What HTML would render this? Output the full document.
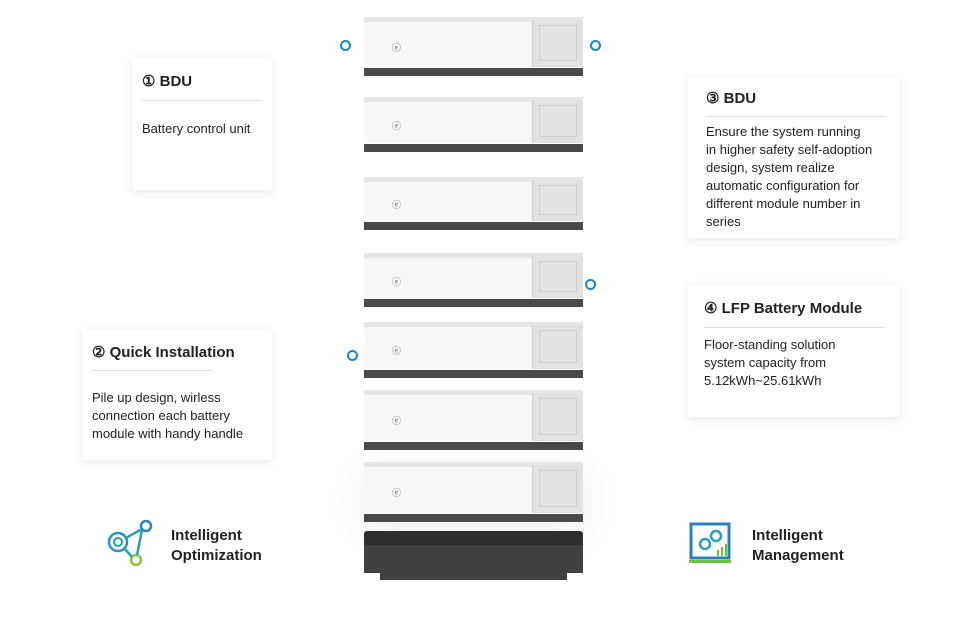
<!DOCTYPE html>
<html><head><meta charset="utf-8"><style>
body{margin:0;width:968px;height:631px;background:#fff;position:relative;overflow:hidden;font-family:"Liberation Sans",sans-serif;color:#222}
.card{position:absolute;background:#fff;box-shadow:0 2px 10px rgba(0,0,0,.10);border-radius:3px}
.card h3{margin:0;font-size:15px;font-weight:bold;color:#222;position:absolute}
.card .ln{position:absolute;height:1px;background:#ddd}
.card p{position:absolute;margin:0;font-size:13px;line-height:18px;color:#222;white-space:nowrap}
.mod{position:absolute;left:364px;width:219px}
.mod .top{position:absolute;left:0;right:0;top:0;height:5px;background:#e6e6e6}
.mod .fr{position:absolute;left:0;top:5px;width:168px;bottom:9px;background:#f7f7f7}
.mod .sd{position:absolute;left:168px;right:0;top:3px;bottom:9px;background:#e2e2e2;border-left:1px solid #d0d0d0}
.mod .sd i{position:absolute;left:6px;right:6px;top:5px;bottom:6px;border:1px solid #ccc}
.mod .bt{position:absolute;left:0;right:0;bottom:0;height:8px;background:#4a4a4a}
.mod .lg{position:absolute;left:28px;top:40%;font-size:9px;color:#666}
.dot{position:absolute;width:7px;height:7px;border:2.5px solid #1b86c4;border-radius:50%}
.lbl{position:absolute;font-size:15px;font-weight:bold;line-height:20px;color:#222}
</style></head><body>

<div class="card" style="left:132px;top:58px;width:140px;height:132px">
<h3 style="left:10px;top:14px">① BDU</h3><div class="ln" style="left:10px;top:42px;width:120px"></div>
<p style="left:10px;top:62px">Battery control unit</p></div>

<div class="card" style="left:82px;top:330px;width:190px;height:130px">
<h3 style="left:10px;top:13px">② Quick Installation</h3><div class="ln" style="left:10px;top:40px;width:120px"></div>
<p style="left:10px;top:59px">Pile up design, wirless<br>connection each battery<br>module with handy handle</p></div>

<div class="card" style="left:688px;top:78px;width:212px;height:160px">
<h3 style="left:18px;top:11px">③ BDU</h3><div class="ln" style="left:18px;top:38px;width:180px"></div>
<p style="left:18px;top:45px">Ensure the system running<br>in higher safety self-adoption<br>design, system realize<br>automatic configuration for<br>different module number in<br>series</p></div>

<div class="card" style="left:688px;top:285px;width:212px;height:132px">
<h3 style="left:16px;top:14px">④ LFP Battery Module</h3><div class="ln" style="left:16px;top:42px;width:180px"></div>
<p style="left:16px;top:51px">Floor-standing solution<br>system capacity from<br>5.12kWh~25.61kWh</p></div>

<div class="mod" style="top:17px;height:59px"><div class="top"></div><div class="fr"></div><div class="sd"><i></i></div><div class="bt"></div><div class="lg">ⓔ</div></div>
<div class="mod" style="top:97px;height:55px"><div class="top"></div><div class="fr"></div><div class="sd"><i></i></div><div class="bt"></div><div class="lg">ⓔ</div></div>
<div class="mod" style="top:177px;height:53px"><div class="top"></div><div class="fr"></div><div class="sd"><i></i></div><div class="bt"></div><div class="lg">ⓔ</div></div>
<div class="mod" style="top:253px;height:54px"><div class="top"></div><div class="fr"></div><div class="sd"><i></i></div><div class="bt"></div><div class="lg">ⓔ</div></div>
<div class="mod" style="top:322px;height:56px"><div class="top"></div><div class="fr"></div><div class="sd"><i></i></div><div class="bt"></div><div class="lg">ⓔ</div></div>
<div class="mod" style="top:390px;height:60px"><div class="top"></div><div class="fr"></div><div class="sd"><i></i></div><div class="bt"></div><div class="lg">ⓔ</div></div>
<div class="mod" style="top:462px;height:60px;box-shadow:0 10px 40px rgba(0,0,0,.08)"><div class="top"></div><div class="fr"></div><div class="sd"><i></i></div><div class="bt"></div><div class="lg">ⓔ</div></div>
<div style="position:absolute;left:364px;top:531px;width:219px;height:14px;background:#2e2e2e;border-radius:3px 3px 0 0"></div>
<div style="position:absolute;left:364px;top:545px;width:219px;height:28px;background:#434140"></div>
<div style="position:absolute;left:380px;top:573px;width:187px;height:7px;background:#434140"></div>

<div class="dot" style="left:340px;top:40px"></div>
<div class="dot" style="left:590px;top:40px"></div>
<div class="dot" style="left:585px;top:279px"></div>
<div class="dot" style="left:347px;top:350px"></div>

<svg style="position:absolute;left:104px;top:518px" width="52" height="50" viewBox="0 0 52 50">
<circle cx="14" cy="24" r="9" fill="none" stroke="#2a8fc4" stroke-width="2.5"/>
<circle cx="14" cy="24" r="4" fill="none" stroke="#2aa0a0" stroke-width="2"/>
<circle cx="42" cy="8" r="5" fill="none" stroke="#2a7fc4" stroke-width="2.5"/>
<circle cx="32" cy="42" r="5" fill="none" stroke="#8cc43c" stroke-width="2.5"/>
<path d="M22 20 L38 11 M38 12 L33 37 M20 30 L28 39" stroke="#2a9fb0" stroke-width="2.5" fill="none"/></svg>
<div class="lbl" style="left:171px;top:526px">Intelligent<br>Optimization</div>

<svg style="position:absolute;left:688px;top:522px" width="44" height="44" viewBox="0 0 44 44">
<rect x="3" y="2" width="38" height="34" fill="none" stroke="#2a7fc4" stroke-width="3"/>
<circle cx="17" cy="22" r="5" fill="none" stroke="#2a9fb0" stroke-width="2.5"/>
<circle cx="28" cy="14" r="5" fill="none" stroke="#2a9fb0" stroke-width="2.5"/>
<rect x="1" y="38" width="42" height="3" fill="#6cc03c"/>
<path d="M30 34v-6M34 34v-9M38 34v-12" stroke="#6cc03c" stroke-width="2"/></svg>
<div class="lbl" style="left:752px;top:526px">Intelligent<br>Management</div>
</body></html>
